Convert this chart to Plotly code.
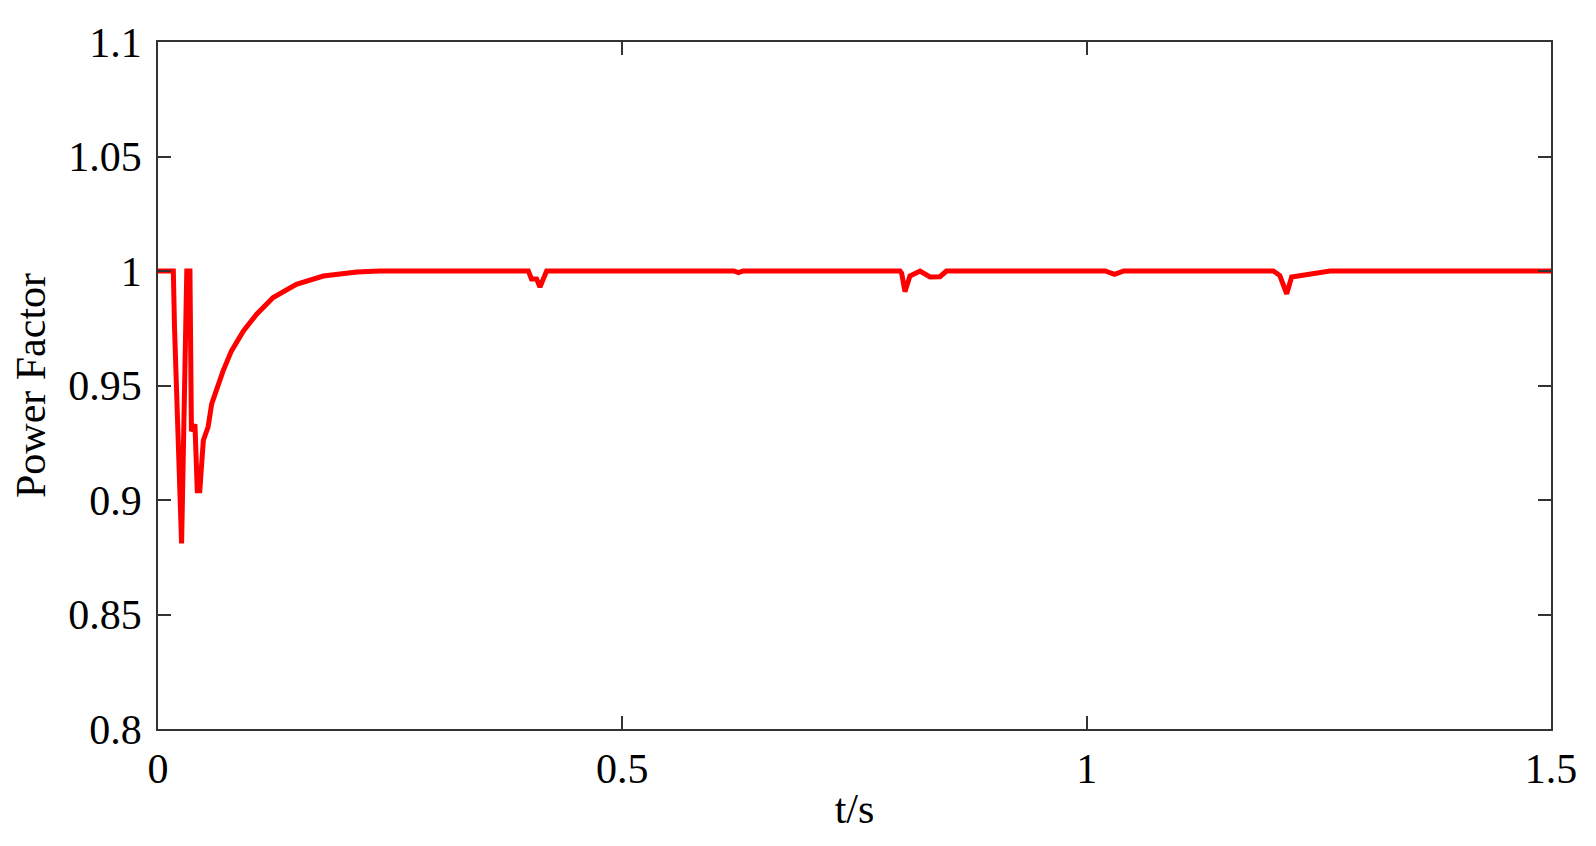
import plotly.graph_objects as go

# tiempo (s) y factor de potencia
t = [0, 0.0165, 0.0178, 0.0254, 0.031, 0.0344, 0.036, 0.0398, 0.0423, 0.045,
     0.0488, 0.054, 0.0578, 0.063, 0.070, 0.079, 0.092, 0.106, 0.124, 0.149,
     0.178, 0.214, 0.239, 0.30, 0.3988, 0.4022, 0.4077, 0.4113, 0.4185, 0.50,
     0.62, 0.625, 0.63, 0.799, 0.8008, 0.8043, 0.8097, 0.8205, 0.8313, 0.842,
     0.849, 1.02, 1.03, 1.04, 1.201, 1.208, 1.2154, 1.2207, 1.244, 1.262, 1.5]
pf = [1.0, 1.0, 0.975, 0.881, 1.0, 1.0, 0.930, 0.933, 0.904, 0.904,
      0.926, 0.932, 0.942, 0.948, 0.9563, 0.965, 0.9738, 0.981, 0.9884, 0.9942,
      0.9978, 0.9996, 1.0, 1.0, 1.0, 0.9965, 0.9965, 0.993, 1.0, 1.0,
      1.0, 0.9993, 1.0, 1.0, 0.999, 0.991, 0.9978, 1.0, 0.9974, 0.9975,
      1.0, 1.0, 0.9985, 1.0, 1.0, 0.998, 0.990, 0.9974, 0.9988, 1.0, 1.0]

x_ticks = [0, 0.5, 1, 1.5]
x_labels = ['0', '0.5', '1', '1.5']
y_ticks = [0.8, 0.85, 0.9, 0.95, 1.0, 1.05, 1.1]
y_labels = ['0.8', '0.85', '0.9', '0.95', '1', '1.05', '1.1']

FONT = 'Liberation Serif, Times New Roman, serif'

fig = go.Figure()
fig.add_trace(go.Scatter(x=t, y=pf, mode='lines',
                         line=dict(color='#ff0000', width=5),
                         showlegend=False))

eje = dict(showline=True, linecolor='#333333', linewidth=1.5, mirror='ticks',
           ticks='inside', ticklen=13, tickcolor='#333333', tickwidth=1.5,
           showgrid=False, zeroline=False,
           tickfont=dict(family=FONT, size=42, color='black'))

fig.update_layout(
    width=1596, height=846,
    plot_bgcolor='white', paper_bgcolor='white',
    margin=dict(l=150, r=53, t=34, b=125),
    font=dict(family=FONT, color='black'),
    xaxis=dict(eje, range=[0, 1.5], tickvals=x_ticks, ticktext=x_labels,
               ticklabelstandoff=2,
               title=dict(text='t/s', font=dict(family=FONT, size=42), standoff=2)),
    yaxis=dict(eje, range=[0.8, 1.1], tickvals=y_ticks, ticktext=y_labels,
               ticklabelstandoff=6,
               title=dict(text='Power Factor', font=dict(family=FONT, size=42), standoff=16)),
)

fig.write_html("out.html")
